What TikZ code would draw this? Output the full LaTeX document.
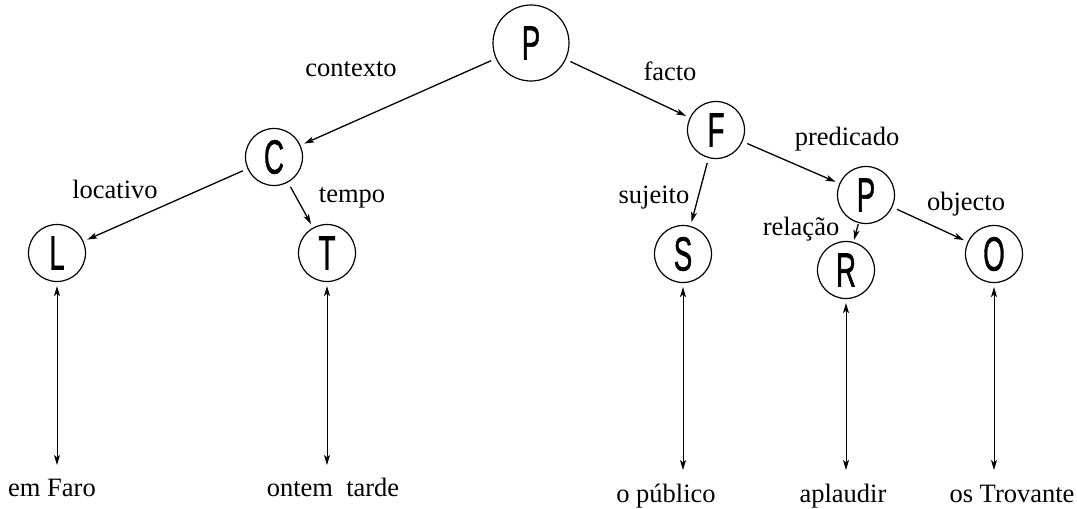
\documentclass[tikz,border=0pt]{standalone}
\usepackage{graphicx}
\usepackage{fontspec}
\setmainfont{Liberation Serif}
\newfontfamily\letterfont[FakeBold=1.2]{Liberation Sans}
\usetikzlibrary{arrows.meta}
% narrow capital used inside the circles
\newcommand\nodeletter[1]{\scalebox{0.58}[1]{\fontsize{48}{48}\selectfont\letterfont #1}}
\begin{document}
\begin{tikzpicture}[x=1pt,y=-1pt,
  state/.style={circle,draw,line width=1.2pt,minimum size=57pt,inner sep=0pt},
  rootstate/.style={state,minimum size=76pt},
  lab/.style={anchor=base,inner sep=0pt,font=\fontsize{26.5}{30}\selectfont},
  tip/.tip={Stealth[length=10pt,width=6pt,inset=2.5pt]},
  edge/.style={line width=1.3pt,-tip,shorten <=5pt,shorten >=4pt},
  link/.style={line width=1pt,tip-tip,shorten <=4pt}]
\useasboundingbox (0,0) rectangle (1077,509);

% tree nodes
\node[rootstate] (P)  at (531,43)  {\nodeletter{P}};
\node[state]     (C)  at (274,157) {\nodeletter{C}};
\node[state]     (F)  at (716,130) {\nodeletter{F}};
\node[state]     (L)  at (57,253)  {\nodeletter{L}};
\node[state]     (T)  at (327,253) {\nodeletter{T}};
\node[state]     (S)  at (683,254) {\nodeletter{S}};
\node[state]     (P2) at (866,195) {\nodeletter{P}};
\node[state]     (R)  at (846,270) {\nodeletter{R}};
\node[state]     (O)  at (994,254) {\nodeletter{O}};

% tree edges
\draw[edge] (P)  -- (C);
\draw[edge] (P)  -- (F);
\draw[edge] (C)  -- (L);
\draw[edge] (C)  -- (T);
\draw[edge] (F)  -- (S);
\draw[edge] (F)  -- (P2);
\draw[edge,shorten <=1pt,shorten >=2pt] (P2) -- (R);
\draw[edge] (P2) -- (O);

% edge labels
\node[lab] (lcontexto) at (351,76)  {contexto};
\node[lab] (lfacto)    at (670,80)  {facto};
\node[lab] (llocativo) at (115,198) {locativo};
\node[lab] (ltempo)    at (352,202) {tempo};
\node[lab] (lpredic)   at (847,145) {predicado};
\node[lab] (lsujeito)  at (654,203) {sujeito};
\node[lab] (lrelacao)  at (801,235) {relação};
\node[lab] (lobjecto)  at (966,210) {objecto};

% words
\node[lab] (wL) at (52,496)   {em Faro};
\node[lab] (wT) at (333,496)  {ontem\ \ tarde};
\node[lab] (wS) at (666,502)  {o público};
\node[lab] (wR) at (843,502)  {aplaudir};
\node[lab] (wO) at (1012,502) {os Trovante};

% lower ends of the links
\coordinate (eL) at (57,465);
\coordinate (eT) at (327,465);
\coordinate (eS) at (683,470);
\coordinate (eR) at (846,470);
\coordinate (eO) at (994,470);

% links between nodes and words
\draw[link] (L.south) -- (eL);
\draw[link] (T.south) -- (eT);
\draw[link] (S.south) -- (eS);
\draw[link] (R.south) -- (eR);
\draw[link] (O.south) -- (eO);
\end{tikzpicture}
\end{document}
